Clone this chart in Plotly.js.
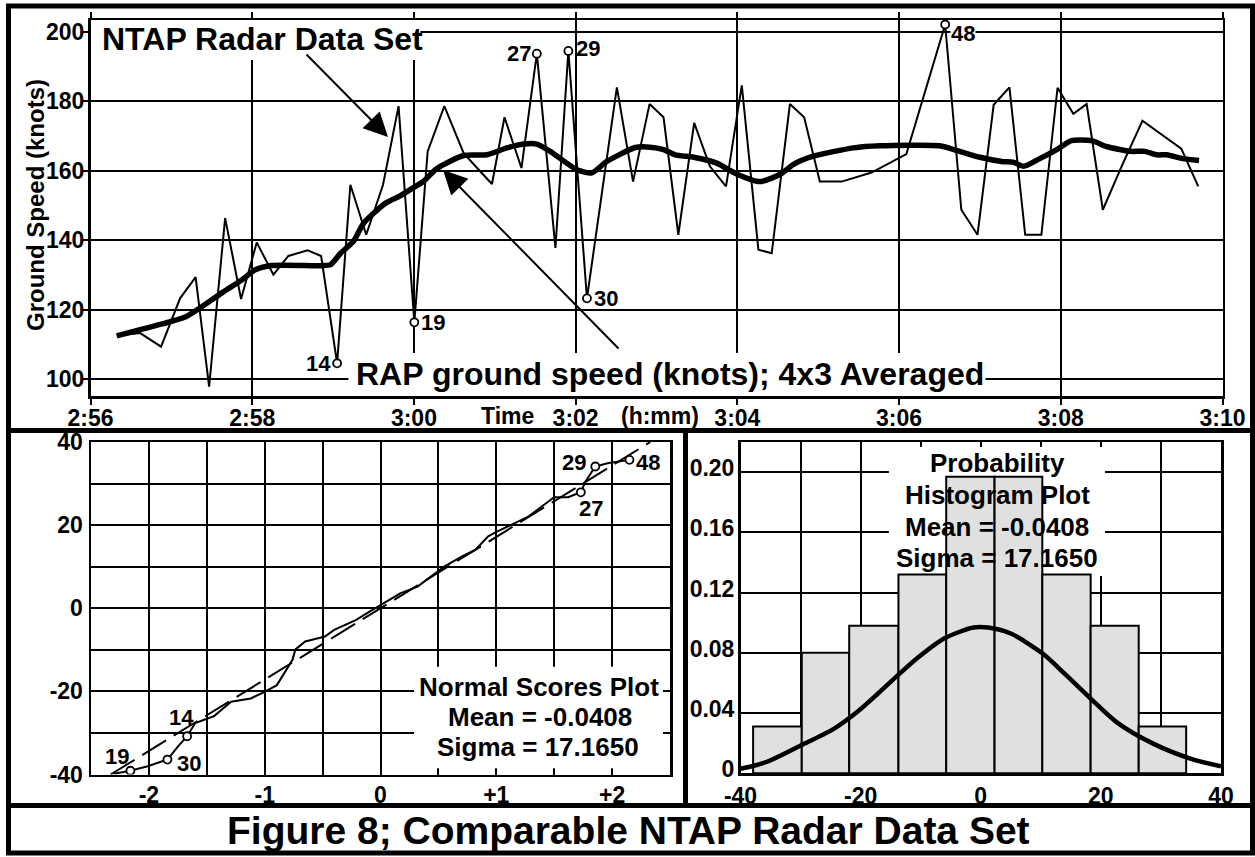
<!DOCTYPE html>
<html><head><meta charset="utf-8">
<script src="https://cdn.plot.ly/plotly-3.0.1.min.js"></script>
<style>html,body{margin:0;padding:0;background:#fff}#chart{width:1255px;height:857px}</style>
</head><body><div id="chart"></div>
<script>
// ---------------- DATA ----------------
// Top panel: time axis in minutes after 2:56
const timeTickMinutes = [0, 2, 4, 6, 8, 10, 12, 14];
const timeTickLabels = ['2:56', '2:58', '3:00', '3:02', '3:04', '3:06', '3:08', '3:10'];
const speedTicks = [100, 120, 140, 160, 180, 200];

// NTAP radar data set (raw ground speed, knots), points 1..62
const rawMinutes = [0.325, 0.614, 0.873, 1.108, 1.30, 1.467, 1.665, 1.862, 2.056, 2.262,
  2.447, 2.686, 2.852, 3.05, 3.214, 3.41, 3.618, 3.81, 4.005, 4.17,
  4.376, 4.615, 4.79, 4.965, 5.12, 5.33, 5.52, 5.75, 5.91, 6.14,
  6.51, 6.71, 6.914, 7.087, 7.27, 7.466, 7.66, 7.86, 8.055, 8.26,
  8.425, 8.65, 8.826, 9.02, 9.29, 9.66, 10.09, 10.57, 10.77, 10.97,
  11.17, 11.365, 11.56, 11.76, 11.96, 12.155, 12.32, 12.52, 12.77, 13.01,
  13.49, 13.70];
const rawSpeed = [112.5, 113.3, 109.4, 123.3, 129.4, 97.9, 146.4, 123.1, 139.4, 130.1,
  135.5, 137.1, 135.5, 104.6, 156.0, 141.6, 156.0, 178.6, 116.4, 165.6,
  178.6, 165.1, 160.6, 156.2, 175.4, 160.8, 193.7, 137.8, 194.5, 123.3,
  184.0, 156.9, 179.2, 175.4, 141.6, 173.8, 161.3, 155.5, 184.6, 137.3,
  136.3, 179.2, 175.4, 156.9, 156.9, 159.5, 164.8, 202.1, 148.8, 141.6,
  179.0, 184.0, 141.6, 141.6, 183.9, 176.4, 179.2, 148.8, 162.2, 174.4,
  166.4, 155.5];
const flaggedPoints = [14, 19, 27, 29, 30, 48];

// RAP ground speed, 4x3 averaged
const avgMinutes = [0.325, 0.614, 0.90, 1.17, 1.376, 1.62, 1.87, 2.036, 2.22, 2.86,
  2.97, 3.09, 3.255, 3.38, 3.65, 3.83, 3.955, 4.12, 4.28, 4.615,
  4.9, 5.15, 5.355, 5.52, 5.686, 6.015, 6.2, 6.386, 6.737, 6.92,
  7.087, 7.23, 7.46, 7.746, 7.99, 8.28, 8.53, 8.69, 8.94, 9.435,
  9.765, 10.5, 10.75, 11.0, 11.27, 11.41, 11.54, 11.74, 11.95, 12.13,
  12.38, 12.565, 12.86, 13.04, 13.185, 13.31, 13.51, 13.71];
const avgSpeed = [112.5, 114.3, 116.0, 117.9, 120.9, 124.8, 128.6, 131.5, 132.7, 132.7,
  133.0, 136.2, 139.8, 145.0, 150.7, 152.8, 154.6, 157.0, 160.6, 164.4,
  164.6, 166.6, 167.7, 167.7, 165.6, 160.3, 159.4, 162.7, 166.7, 166.8,
  166.1, 164.6, 163.9, 162.2, 159.1, 156.9, 159.0, 161.8, 164.2, 166.6,
  167.2, 167.2, 165.6, 163.9, 162.7, 162.5, 161.3, 163.5, 166.1, 168.7,
  168.7, 167.0, 165.6, 165.6, 164.6, 164.6, 163.5, 163.0];

// Normal scores plot
const nsScore = [-2.30, -2.16, -2.01, -1.84, -1.75, -1.67, -1.60, -1.44, -1.29, -1.12,
  -1.00, -0.895, -0.76, -0.735, -0.65, -0.48, -0.40, -0.21, -0.095, 0.02,
  0.17, 0.32, 0.48, 0.55, 0.70, 0.82, 0.93, 1.01, 1.16, 1.28,
  1.45, 1.50, 1.62, 1.73, 1.77, 1.855, 1.96, 2.15];
const nsResid = [-39.8, -39.1, -38.0, -36.4, -33.3, -30.8, -27.6, -26.0, -22.5, -21.7,
  -20.1, -18.5, -12.4, -9.9, -8.0, -6.8, -5.2, -2.8, -0.8, 1.2,
  3.6, 5.2, 8.4, 10.0, 12.4, 14.1, 17.3, 18.5, 20.5, 22.1,
  25.7, 26.7, 26.7, 27.9, 30.5, 34.1, 34.9, 35.7];
const nsFlagScore = [-2.16, -1.84, -1.67, 1.73, 1.855, 2.15];
const nsFlagResid = [-39.1, -36.4, -30.8, 27.9, 34.1, 35.7];
const nsFlagLabel = ['19', '30', '14', '27', '29', '48'];
const nsFitScore = [-2.33, 2.33];
const nsFitResid = [-40.0, 40.0];
const nsXTicks = [-2, -1, 0, 1, 2];
const nsXTickText = ['-2', '-1', '0', '+1', '+2'];
const nsYTicks = [-40, -20, 0, 20, 40];
const nsYTickText = ['-40', '-20', '0', '20', '40'];

// Probability histogram
const histEdges = [-37.9, -29.8, -21.9, -13.7, -5.75, 2.3, 10.25, 18.3, 26.3, 34.2];
const histProb = [0.031, 0.080, 0.098, 0.132, 0.197, 0.197, 0.132, 0.098, 0.031];
const curveX = [-40, -35.7, -29.9, -24.4, -20.8, -17.1, -14.1, -10.4, -6.1, -1.2,
  1.2, 4.9, 10.3, 14.0, 18.3, 22.6, 28.7, 35.4, 40];
const curveY = [0.003, 0.0075, 0.0186, 0.0297, 0.040, 0.053, 0.064, 0.077, 0.0895, 0.0968,
  0.0968, 0.093, 0.0795, 0.066, 0.0496, 0.034, 0.0197, 0.0091, 0.0047];
const histXTicks = [-40, -20, 0, 20, 40];
const histXTickText = ['-40', '-20', '0', '20', '40'];
const histYTicks = [0, 0.04, 0.08, 0.12, 0.16, 0.20];
const histYTickText = ['0', '0.04', '0.08', '0.12', '0.16', '0.20'];

// ---------------- LAYOUT HELPERS ----------------
const W = 1255, H = 857;
const px = X => X / W;
const py = Y => 1 - Y / H;
const FONT = 'Liberation Sans, Arial, Helvetica, sans-serif';
const bold = (size) => ({family: FONT, size: size, color: '#000', weight: 700});
const b = arr => arr.map(t => '<b>' + t + '</b>');

const histCenters = histProb.map((_, i) => (histEdges[i] + histEdges[i + 1]) / 2);
const histWidths = histProb.map((_, i) => histEdges[i + 1] - histEdges[i]);

const traces = [
  // top panel
  {x: rawMinutes, y: rawSpeed, xaxis: 'x', yaxis: 'y', mode: 'lines', type: 'scatter',
    line: {color: '#000', width: 2}, hoverinfo: 'skip'},
  {x: avgMinutes, y: avgSpeed, xaxis: 'x', yaxis: 'y', mode: 'lines', type: 'scatter',
    line: {color: '#000', width: 5.5, shape: 'spline', smoothing: 0.6}, hoverinfo: 'skip'},
  {x: flaggedPoints.map(i => rawMinutes[i - 1]), y: flaggedPoints.map(i => rawSpeed[i - 1]),
    xaxis: 'x', yaxis: 'y', mode: 'markers', type: 'scatter',
    marker: {symbol: 'circle', size: 8, color: '#fff', line: {color: '#000', width: 1.8}}, hoverinfo: 'skip'},
  // normal scores
  {x: nsFitScore, y: nsFitResid, xaxis: 'x2', yaxis: 'y2', mode: 'lines', type: 'scatter',
    line: {color: '#000', width: 2, dash: '28px,9px'}, hoverinfo: 'skip'},
  {x: nsScore, y: nsResid, xaxis: 'x2', yaxis: 'y2', mode: 'lines', type: 'scatter',
    line: {color: '#000', width: 2}, hoverinfo: 'skip'},
  {x: nsFlagScore, y: nsFlagResid, xaxis: 'x2', yaxis: 'y2', mode: 'markers', type: 'scatter',
    marker: {symbol: 'circle', size: 8, color: '#fff', line: {color: '#000', width: 1.8}}, hoverinfo: 'skip'},
  // histogram
  {x: histCenters, y: histProb, width: histWidths, xaxis: 'x3', yaxis: 'y3', type: 'bar',
    marker: {color: '#e0e0e0', line: {color: '#000', width: 2}}, hoverinfo: 'skip'},
  {x: curveX, y: curveY, xaxis: 'x3', yaxis: 'y3', mode: 'lines', type: 'scatter',
    line: {color: '#000', width: 4.5, shape: 'spline', smoothing: 0.8}, hoverinfo: 'skip'}
];

const gridAxis = {
  showgrid: true, gridcolor: '#000', gridwidth: 2, zeroline: false,
  showline: true, linecolor: '#000', linewidth: 2.5, mirror: true,
  tickfont: bold(23), fixedrange: true, tickmode: 'array'
};

const layout = {
  width: W, height: H, margin: {l: 0, r: 0, t: 0, b: 0},
  paper_bgcolor: '#fff', plot_bgcolor: '#fff', showlegend: false, bargap: 0,
  xaxis: Object.assign({}, gridAxis, {
    domain: [px(90.5), px(1222.5)], range: [0, 14], anchor: 'y',
    tickvals: timeTickMinutes, ticktext: b(timeTickLabels),
    ticks: 'outside', ticklen: 6, tickwidth: 2, tickcolor: '#000', mirror: 'ticks',
    ticklabelstandoff: -6
  }),
  yaxis: Object.assign({}, gridAxis, {
    domain: [py(396), py(20)], range: [95.2, 203.4], anchor: 'x',
    tickvals: speedTicks, ticktext: b(speedTicks.map(String)),
    ticks: 'outside', ticklen: 7, tickwidth: 2, tickcolor: '#000', ticklabelstandoff: -8
  }),
  xaxis2: Object.assign({}, gridAxis, {
    domain: [px(91), px(670)], range: [-2.5, 2.5], anchor: 'y2',
    tickvals: nsXTicks, ticktext: b(nsXTickText), ticks: '', ticklabelstandoff: -2,
    minor: {tick0: 0, dtick: 0.5, showgrid: true, gridcolor: '#000', gridwidth: 2}
  }),
  yaxis2: Object.assign({}, gridAxis, {
    domain: [py(774.5), py(442)], range: [-40, 40], anchor: 'x2',
    tickvals: nsYTicks, ticktext: b(nsYTickText), ticks: '', ticklabelstandoff: 1,
    minor: {tick0: 0, dtick: 10, showgrid: true, gridcolor: '#000', gridwidth: 2}
  }),
  xaxis3: Object.assign({}, gridAxis, {
    domain: [px(740.5), px(1221)], range: [-40, 40], anchor: 'y3',
    tickvals: histXTicks, ticktext: b(histXTickText), ticks: '', ticklabelstandoff: 1,
    minor: {tick0: 0, dtick: 10, showgrid: true, gridcolor: '#000', gridwidth: 2}
  }),
  yaxis3: Object.assign({}, gridAxis, {
    domain: [py(773.3), py(442)], range: [0, 0.22], anchor: 'x3',
    tickvals: histYTicks, ticktext: b(histYTickText), ticks: '', ticklabelstandoff: -1,
    ticklabelshift: -4
  }),
  shapes: [
    // white label boxes (over gridlines, under traces)
    {type: 'rect', xref: 'x', yref: 'y', x0: -0.2, x1: 4.08, y0: 191.9, y1: 205, layer: 'between',
      fillcolor: '#fff', line: {width: 0}},
    {type: 'rect', xref: 'x', yref: 'y', x0: 3.19, x1: 11.07, y0: 94, y1: 107.6, layer: 'between',
      fillcolor: '#fff', line: {width: 0}},
    {type: 'rect', xref: 'x2', yref: 'y2', x0: 0.29, x1: 2.44, y0: -38.5, y1: -14.1, layer: 'between',
      fillcolor: '#fff', line: {width: 0}},
    {type: 'rect', xref: 'x3', yref: 'y3', x0: -15.3, x1: 20.7, y0: 0.131, y1: 0.2166, layer: 'between',
      fillcolor: '#fff', line: {width: 0}},
    // page frame
    {type: 'rect', xref: 'paper', yref: 'paper', x0: px(8.5), x1: px(1252.5), y0: py(853), y1: py(6),
      line: {color: '#000', width: 5}, layer: 'above'},
    {type: 'line', xref: 'paper', yref: 'paper', x0: px(8.5), x1: px(1252.5), y0: py(430.5), y1: py(430.5),
      line: {color: '#000', width: 5}, layer: 'above'},
    {type: 'line', xref: 'paper', yref: 'paper', x0: px(685.5), x1: px(685.5), y0: py(430.5), y1: py(805.5),
      line: {color: '#000', width: 5}, layer: 'above'},
    {type: 'line', xref: 'paper', yref: 'paper', x0: px(8.5), x1: px(1252.5), y0: py(805.5), y1: py(805.5),
      line: {color: '#000', width: 5}, layer: 'above'}
  ],
  annotations: []
};

const A = layout.annotations;
const addText = (text, X, Y, size, opts) => A.push(Object.assign({
  text: '<b>' + text + '</b>', xref: 'paper', yref: 'paper', x: px(X), y: py(Y), showarrow: false,
  xanchor: 'center', yanchor: 'middle', font: bold(size)
}, opts || {}));

// top panel texts
addText('NTAP Radar Data Set', 100, 39, 32, {xanchor: 'left'});
addText('RAP ground speed (knots); 4x3 Averaged', 354, 374, 32, {xanchor: 'left'});
addText('Ground Speed (knots)', 36, 205, 24, {textangle: -90});
addText('Time', 507, 416, 23);
addText('(h:mm)', 660, 416, 23);
// arrows
A.push({text: '', xref: 'paper', yref: 'paper', x: px(388), y: py(137), ax: -83, ay: -84,
  showarrow: true, arrowhead: 2, arrowsize: 2.4, arrowwidth: 2, arrowcolor: '#000'});
A.push({text: '', xref: 'paper', yref: 'paper', x: px(443), y: py(170), ax: 177, ay: 180,
  showarrow: true, arrowhead: 2, arrowsize: 2.4, arrowwidth: 2, arrowcolor: '#000'});

// flagged point labels, top panel
const topLabelOpts = {
  14: {xanchor: 'right', xshift: -5, yshift: 0},
  19: {xanchor: 'left', xshift: 6, yshift: 0},
  27: {xanchor: 'right', xshift: -5, yshift: 0},
  29: {xanchor: 'left', xshift: 7, yshift: 2},
  30: {xanchor: 'left', xshift: 6, yshift: 0},
  48: {xanchor: 'left', xshift: 5, yshift: -9}
};
flaggedPoints.forEach(i => {
  const o = topLabelOpts[i];
  A.push({text: '<b>' + i + '</b>', xref: 'x', yref: 'y', x: rawMinutes[i - 1], y: rawSpeed[i - 1],
    showarrow: false, xanchor: o.xanchor, yanchor: 'middle', xshift: o.xshift, yshift: o.yshift,
    font: bold(22), bgcolor: i === 48 ? '#fff' : 'rgba(0,0,0,0)', borderpad: 0});
});

// normal scores labels
const nsShift = [[-13, 14], [22, -4], [-6, 19], [10, -16], [-21, 4], [19, -3]];
nsFlagLabel.forEach((t, k) => {
  A.push({text: '<b>' + t + '</b>', xref: 'x2', yref: 'y2', x: nsFlagScore[k], y: nsFlagResid[k], showarrow: false,
    xanchor: 'center', yanchor: 'middle', xshift: nsShift[k][0], yshift: nsShift[k][1], font: bold(22)});
});
addText('Normal Scores Plot', 539, 687, 26);
addText('Mean = -0.0408', 540, 717, 26);
addText('Sigma = 17.1650', 538, 747, 26);

// histogram texts
addText('Probability', 997, 463, 26);
addText('Histogram Plot', 997, 495, 26);
addText('Mean = -0.0408', 997, 527, 26);
addText('Sigma = 17.1650', 997, 558, 26);

// figure caption
addText('Figure 8; Comparable NTAP Radar Data Set', 628, 830, 39);

Plotly.newPlot('chart', traces, layout, {staticPlot: true, displayModeBar: false});
</script>
</body></html>
